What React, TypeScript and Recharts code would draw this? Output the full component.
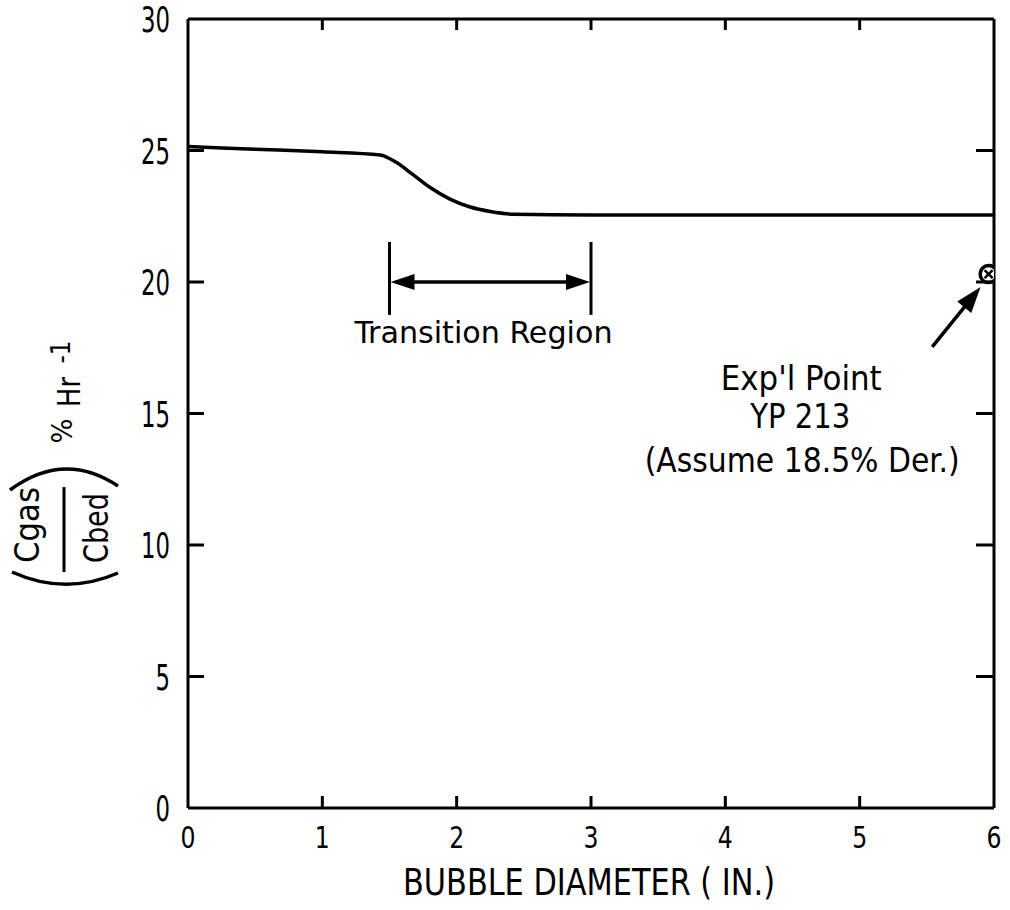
import React from "react";
import {
  ComposedChart,
  Line,
  Scatter,
  XAxis,
  YAxis,
  ReferenceLine,
  ReferenceDot,
} from "recharts";

// Computed curve: concentration ratio vs bubble diameter
const bubbleDiameter = [0, 0.5, 1.0, 1.43, 1.55, 1.67, 1.8, 1.95, 2.1, 2.25, 2.42, 3, 4, 5, 6];
const ratioPercent = [25.15, 25.05, 24.95, 24.83, 24.55, 24.1, 23.6, 23.15, 22.85, 22.68, 22.58, 22.55, 22.55, 22.55, 22.55];

// Experimental point YP 213
const expX = [5.96];
const expY = [20.3];

// Axis ticks
const xTicks = [0, 1, 2, 3, 4, 5, 6];
const yTicks = [0, 5, 10, 15, 20, 25, 30];

// Transition region bounds (in.) and marker level
const transitionStart = 1.5;
const transitionEnd = 3;
const transitionLevel = 20;
const transitionBarLow = 18.75;
const transitionBarHigh = 21.52;

// Annotation arrow towards the experimental point
const expArrowFrom = { x: 5.54, y: 17.53 };
const expArrowTo = { x: 5.9, y: 19.81 };

const curveData = bubbleDiameter.map((x, i) => ({ x, y: ratioPercent[i] }));
const expData = expX.map((x, i) => ({ x, y: expY[i] }));

const FONT = '"DejaVu Sans Condensed", "DejaVu Sans", sans-serif';
const INK = "#000";

const BottomTick = (props: any) => {
  const { x, y, payload } = props;
  const v = payload.value;
  const s = String(v);
  const inner = v !== 0 && v !== 6;
  return (
    <g>
      {inner && <line x1={x} y1={y} x2={x} y2={y - 12} stroke={INK} strokeWidth={3} />}
      <text
        x={x}
        y={y + 40}
        textAnchor="middle"
        fontFamily={FONT}
        fontSize={30}
        fill={INK}
        textLength={15 * s.length}
        lengthAdjust="spacingAndGlyphs"
      >
        {s}
      </text>
    </g>
  );
};

const TopTick = (props: any) => {
  const { x, y, payload } = props;
  const v = payload.value;
  if (v === 0 || v === 6) return <g />;
  return <line x1={x} y1={y} x2={x} y2={y + 11} stroke={INK} strokeWidth={3} />;
};

const LeftTick = (props: any) => {
  const { x, y, payload } = props;
  const v = payload.value;
  const s = String(v);
  const inner = v !== 0 && v !== 30;
  return (
    <g>
      {inner && <line x1={x} y1={y} x2={x + 16} y2={y} stroke={INK} strokeWidth={3} />}
      <text
        x={x - 18}
        y={y + 13}
        textAnchor="end"
        fontFamily={FONT}
        fontSize={36}
        fill={INK}
        textLength={14.5 * s.length}
        lengthAdjust="spacingAndGlyphs"
      >
        {s}
      </text>
    </g>
  );
};

const RightTick = (props: any) => {
  const { x, y, payload } = props;
  const v = payload.value;
  if (v === 0 || v === 30) return <g />;
  return <line x1={x} y1={y} x2={x - 18} y2={y} stroke={INK} strokeWidth={3} />;
};

// Rotated y-axis title: (Cgas / Cbed) % Hr^-1
const YTitle = () => (
  <g fill={INK} fontFamily={FONT}>
    <path d="M 12 572 Q 65 596 118 573" fill="none" stroke={INK} strokeWidth={3.5} />
    <path d="M 10 490 Q 64 450 118 486" fill="none" stroke={INK} strokeWidth={3.5} />
    <text
      x={39}
      y={525}
      transform="rotate(-90 39 525)"
      textAnchor="middle"
      fontSize={33}
      textLength={76}
      lengthAdjust="spacingAndGlyphs"
    >
      Cgas
    </text>
    <line x1={64} y1={487} x2={64} y2={572} stroke={INK} strokeWidth={3} />
    <text
      x={108}
      y={528}
      transform="rotate(-90 108 528)"
      textAnchor="middle"
      fontSize={33}
      textLength={70}
      lengthAdjust="spacingAndGlyphs"
    >
      Cbed
    </text>
    <text
      x={72}
      y={431}
      transform="rotate(-90 72 431)"
      textAnchor="middle"
      fontSize={28}
      textLength={25}
      lengthAdjust="spacingAndGlyphs"
    >
      %
    </text>
    <text
      x={80}
      y={392}
      transform="rotate(-90 80 392)"
      textAnchor="middle"
      fontSize={32}
      textLength={30}
      lengthAdjust="spacingAndGlyphs"
    >
      Hr
    </text>
    <text
      x={70}
      y={352}
      transform="rotate(-90 70 352)"
      textAnchor="middle"
      fontSize={26}
      textLength={23}
      lengthAdjust="spacingAndGlyphs"
    >
      -1
    </text>
  </g>
);

const XTitle = (props: any) => {
  const vb = props.viewBox || { x: 188, y: 808, width: 806, height: 102 };
  const cx = vb.x + vb.width / 2 - 2;
  return (
    <text
      x={cx}
      y={vb.y + 87}
      textAnchor="middle"
      fontFamily={FONT}
      fontSize={37}
      fill={INK}
      textLength={372}
      lengthAdjust="spacingAndGlyphs"
    >
      BUBBLE DIAMETER ( IN.)
    </text>
  );
};

const arrowHead = (tipX: number, tipY: number, fromX: number, fromY: number, len: number, half: number) => {
  const dx = tipX - fromX;
  const dy = tipY - fromY;
  const d = Math.hypot(dx, dy) || 1;
  const ux = dx / d;
  const uy = dy / d;
  const bx = tipX - ux * len;
  const by = tipY - uy * len;
  return `M ${tipX} ${tipY} L ${bx - uy * half} ${by + ux * half} L ${bx + uy * half} ${by - ux * half} Z`;
};

const DoubleArrow = (props: any) => {
  const { x1, y1, x2, y2 } = props;
  return (
    <g>
      <line x1={x1 + 10} y1={y1} x2={x2 - 10} y2={y2} stroke={INK} strokeWidth={3.5} />
      <path d={arrowHead(x1 + 1, y1, x2, y2, 24, 8)} fill={INK} />
      <path d={arrowHead(x2 - 1, y2, x1, y1, 24, 8)} fill={INK} />
    </g>
  );
};

const SingleArrow = (props: any) => {
  const { x1, y1, x2, y2 } = props;
  const d = Math.hypot(x2 - x1, y2 - y1) || 1;
  const ex = x2 - ((x2 - x1) / d) * 12;
  const ey = y2 - ((y2 - y1) / d) * 12;
  return (
    <g>
      <line x1={x1} y1={y1} x2={ex} y2={ey} stroke={INK} strokeWidth={3.5} />
      <path d={arrowHead(x2, y2, x1, y1, 26, 9)} fill={INK} />
    </g>
  );
};

const ExpMarker = (props: any) => {
  const { cx, cy } = props;
  return (
    <g>
      <circle cx={cx} cy={cy} r={8.5} fill="#fff" stroke={INK} strokeWidth={3.5} />
      <line x1={cx - 4} y1={cy - 4} x2={cx + 4} y2={cy + 4} stroke={INK} strokeWidth={2.5} />
      <line x1={cx - 4} y1={cy + 4} x2={cx + 4} y2={cy - 4} stroke={INK} strokeWidth={2.5} />
    </g>
  );
};

const makeText = (text: string, size: number, length: number) => (props: any) => (
  <text
    x={props.cx}
    y={props.cy}
    textAnchor="middle"
    fontFamily={FONT}
    fontSize={size}
    fill={INK}
    textLength={length}
    lengthAdjust="spacingAndGlyphs"
  >
    {text}
  </text>
);

export default function App() {
  return (
    <div style={{ position: "absolute", left: 0, top: 0, background: "#fff" }}>
      <ComposedChart
        width={1010}
        height={910}
        data={curveData}
        margin={{ top: 18, right: 15, bottom: 0, left: 0 }}
      >
        <XAxis
          xAxisId="bottom"
          dataKey="x"
          type="number"
          domain={[0, 6]}
          ticks={xTicks}
          interval={0}
          orientation="bottom"
          height={102}
          axisLine={{ stroke: INK, strokeWidth: 3 }}
          tickLine={false}
          tickSize={0}
          tickMargin={0}
          tick={<BottomTick />}
          allowDataOverflow
          label={<XTitle />}
        />
        <XAxis
          xAxisId="top"
          dataKey="x"
          type="number"
          domain={[0, 6]}
          ticks={xTicks}
          interval={0}
          orientation="top"
          height={1}
          axisLine={{ stroke: INK, strokeWidth: 3 }}
          tickLine={false}
          tickSize={0}
          tickMargin={0}
          tick={<TopTick />}
          allowDataOverflow
        />
        <YAxis
          yAxisId="left"
          type="number"
          domain={[0, 30]}
          ticks={yTicks}
          interval={0}
          orientation="left"
          width={188}
          axisLine={{ stroke: INK, strokeWidth: 3 }}
          tickLine={false}
          tickSize={0}
          tickMargin={0}
          tick={<LeftTick />}
          allowDataOverflow
          label={<YTitle />}
        />
        <YAxis
          yAxisId="right"
          type="number"
          domain={[0, 30]}
          ticks={yTicks}
          interval={0}
          orientation="right"
          width={1}
          axisLine={{ stroke: INK, strokeWidth: 3 }}
          tickLine={false}
          tickSize={0}
          tickMargin={0}
          tick={<RightTick />}
          allowDataOverflow
        />
        {/* same curve bound to the frame axes, drawn invisibly so they render */}
        <Line
          xAxisId="top"
          yAxisId="right"
          dataKey="y"
          type="monotone"
          stroke="none"
          dot={false}
          activeDot={false}
          isAnimationActive={false}
        />
        <Line
          xAxisId="bottom"
          yAxisId="left"
          dataKey="y"
          type="monotone"
          stroke={INK}
          strokeWidth={3.5}
          dot={false}
          activeDot={false}
          isAnimationActive={false}
        />
        <Scatter
          xAxisId="bottom"
          yAxisId="left"
          data={expData}
          dataKey="y"
          shape={<ExpMarker />}
          isAnimationActive={false}
        />
        <ReferenceLine
          xAxisId="bottom"
          yAxisId="left"
          segment={[
            { x: transitionStart, y: transitionBarLow },
            { x: transitionStart, y: transitionBarHigh },
          ]}
          stroke={INK}
          strokeWidth={3}
        />
        <ReferenceLine
          xAxisId="bottom"
          yAxisId="left"
          segment={[
            { x: transitionEnd, y: transitionBarLow },
            { x: transitionEnd, y: transitionBarHigh },
          ]}
          stroke={INK}
          strokeWidth={3}
        />
        <ReferenceLine
          xAxisId="bottom"
          yAxisId="left"
          segment={[
            { x: transitionStart, y: transitionLevel },
            { x: transitionEnd, y: transitionLevel },
          ]}
          shape={<DoubleArrow />}
        />
        <ReferenceLine
          xAxisId="bottom"
          yAxisId="left"
          segment={[expArrowFrom, expArrowTo]}
          shape={<SingleArrow />}
        />
        <ReferenceDot
          xAxisId="bottom"
          yAxisId="left"
          x={2.2}
          y={17.68}
          r={0}
          shape={makeText("Transition Region", 31, 258)}
        />
        <ReferenceDot
          xAxisId="bottom"
          yAxisId="left"
          x={4.565}
          y={15.89}
          r={0}
          shape={makeText("Exp'l Point", 33, 161)}
        />
        <ReferenceDot
          xAxisId="bottom"
          yAxisId="left"
          x={4.557}
          y={14.45}
          r={0}
          shape={makeText("YP 213", 33, 100)}
        />
        <ReferenceDot
          xAxisId="bottom"
          yAxisId="left"
          x={4.572}
          y={12.78}
          r={0}
          shape={makeText("(Assume 18.5% Der.)", 33, 315)}
        />
      </ComposedChart>
    </div>
  );
}
